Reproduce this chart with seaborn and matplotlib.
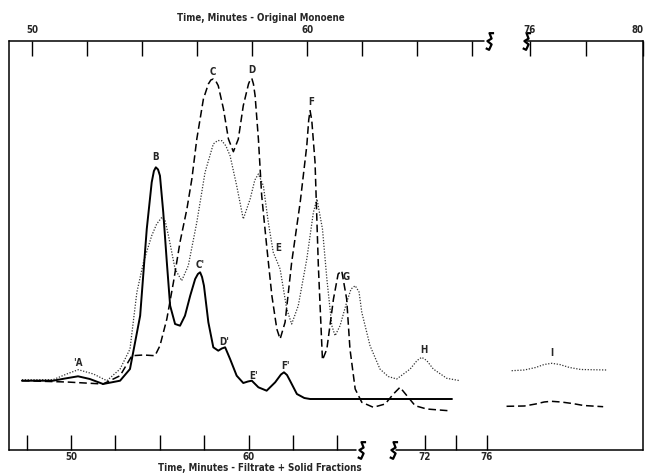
import numpy as np
import pandas as pd
import matplotlib
matplotlib.use('Agg')
import matplotlib.pyplot as plt
from matplotlib.path import Path
from matplotlib.ticker import FixedLocator, NullLocator
import seaborn as sns

sns.set_style('white')
plt.rcParams['font.family'] = ['DejaVu Sans']
plt.rcParams['font.stretch'] = 'condensed'
plt.rcParams['font.weight'] = 'bold'

# ---------------- data (x in minutes on the "Original Monoene" scale) -------------
solid_t = [49.63, 50.76, 51.20, 51.67, 52.10, 52.58, 53.20, 53.56, 53.93, 54.17, 54.35,
           54.43, 54.50, 54.58, 54.65, 54.77, 54.90, 55.02, 55.20, 55.38, 55.56, 55.75,
           55.93, 56.03, 56.11, 56.18, 56.25, 56.41, 56.59, 56.77, 56.90, 57.02, 57.20,
           57.44, 57.68, 57.85, 57.99, 58.23, 58.53, 58.84, 59.05, 59.16, 59.27, 59.38,
           59.63, 59.90, 60.11, 60.84, 65.27]
solid_y = [69.3, 69.3, 71.5, 73.7, 71.0, 66.0, 69.3, 81.0, 134.3, 221.0, 267.7,
           279.0, 282.7, 280.5, 274.3, 237.7, 187.7, 144.3, 126.0, 124.3, 134.3, 154.3,
           171.0, 176.0, 177.7, 173.0, 164.3, 127.7, 102.7, 99.3, 101.5, 102.7, 91.0,
           74.3, 67.0, 68.5, 69.3, 62.7, 59.3, 67.7, 75.5, 77.7, 75.0, 69.3,
           56.0, 52.0, 51.0, 51.0, 51.0]

dashed_t = [49.63, 51.26, 52.58, 53.20, 53.63, 54.05, 54.47, 54.65, 54.90, 55.14, 55.38,
            55.63, 55.81, 55.99, 56.23, 56.41, 56.50, 56.59, 56.68, 56.77, 56.96, 57.14,
            57.32, 57.50, 57.68, 57.87, 57.93, 57.99, 58.05, 58.11, 58.23, 58.35, 58.53,
            58.72, 58.90, 59.02, 59.20, 59.44, 59.75, 59.99, 60.06, 60.11, 60.17, 60.29,
            60.41, 60.56, 60.72, 60.96, 61.13, 61.26, 61.44, 61.56, 61.75, 61.99, 62.41,
            62.84, 63.14, 63.38, 63.63, 63.93, 64.35, 65.14]
dashed_y = [69.3, 68.0, 66.0, 74.3, 94.3, 95.0, 94.3, 104.3, 131.0, 167.7, 208.0,
            241.0, 271.0, 311.0, 351.0, 366.0, 370.0, 371.0, 369.0, 364.3, 341.0, 311.0,
            298.3, 311.0, 344.3, 366.0, 370.0, 371.7, 366.0, 354.3, 311.0, 254.3, 204.3,
            154.3, 121.0, 111.0, 127.7, 187.7, 247.7, 304.3, 330.0, 339.3, 330.0, 287.7,
            184.3, 90.0, 101.0, 151.0, 176.0, 179.3, 151.0, 101.0, 61.0, 47.7, 42.7,
            46.0, 56.0, 62.7, 54.3, 44.3, 41.0, 39.3]

dotted_t = [49.63, 50.76, 51.26, 51.68, 52.23, 52.72, 53.20, 53.56, 53.81, 54.05, 54.35,
            54.53, 54.72, 54.84, 54.96, 55.20, 55.44, 55.68, 55.99, 56.29, 56.59, 56.75,
            56.90, 57.05, 57.20, 57.44, 57.68, 57.93, 58.10, 58.23, 58.41, 58.59, 58.77,
            59.02, 59.26, 59.44, 59.68, 59.99, 60.23, 60.36, 60.56, 60.72, 60.90, 61.02,
            61.20, 61.44, 61.60, 61.75, 61.89, 61.99, 62.29, 62.65, 62.95, 63.26, 63.75,
            64.00, 64.17, 64.35, 64.59, 65.08, 65.56]
dotted_y = [70.3, 70.3, 76.0, 80.3, 76.0, 69.3, 81.0, 101.0, 157.7, 187.7, 214.3,
            226.0, 232.7, 229.0, 214.3, 181.0, 169.3, 184.3, 227.7, 277.7, 306.0, 309.5,
            309.3, 304.0, 294.3, 264.3, 231.0, 251.0, 270.0, 276.0, 264.3, 227.7, 197.7,
            181.0, 141.0, 126.0, 144.3, 191.0, 237.7, 251.0, 221.0, 171.0, 124.3, 114.3,
            124.3, 147.7, 161.0, 164.3, 158.0, 137.7, 104.3, 81.0, 73.5, 71.0, 81.0,
            89.5, 92.7, 89.5, 81.0, 71.7, 69.3]

dotted_i_t = [75.35, 75.80, 76.20, 76.50, 76.77, 77.05, 77.40, 77.80, 78.72]
dotted_i_y = [79.3, 80.0, 82.5, 85.5, 86.7, 85.5, 82.5, 80.5, 80.0]
dashed_i_t = [75.17, 75.80, 76.20, 76.50, 76.75, 77.10, 77.50, 77.90, 78.59]
dashed_i_y = [43.7, 44.0, 46.0, 48.0, 48.7, 48.0, 46.5, 44.5, 43.3]

peak_labels = ["'A", "B", "C'", "D'", "E'", "F'", "C", "D", "F", "E", "G", "H", "I"]
peak_label_t = [51.67, 54.50, 56.11, 56.98, 58.05, 59.20, 56.59, 57.99, 60.15, 58.96, 61.44, 64.23, 76.77]
peak_label_y = [87.7, 294.3, 186.0, 109.3, 75.0, 85.0, 379.3, 381.0, 349.3, 202.7, 173.7, 101.0, 97.7]

top_ticks = [50, 52, 54, 56, 58, 60, 62, 64, 66, 76, 78, 80]
top_tick_labels = ['50', '', '', '', '', '60', '', '', '', '76', '', '80']
bottom_ticks = [48, 50, 52, 54, 56, 58, 60, 62, 72, 74, 76]
bottom_tick_labels = ['', '50', '', '', '', '60', '', '', '72', '', '76']

top_title = 'Time, Minutes - Original Monoene'
bottom_title = 'Time, Minutes - Filtrate + Solid Fractions'

# ---------------- broken scales --------------------------------------------------
T_KNOTS = [40.0, 67.0, 75.0, 90.0]
U_KNOTS = [40.0, 67.0, 67.08, 68.109 + 14 * 1.0273]


def fwd(t):
    return np.interp(np.asarray(t, float), T_KNOTS, U_KNOTS)


def inv(u):
    return np.interp(np.asarray(u, float), U_KNOTS, T_KNOTS)


def bottom_to_top(b):
    b = np.asarray(b, float)
    return np.where(b < 67, 51.418 + (b - 50) * 0.80727, 64.291 + (b - 72) * 0.56364)


XLIM = (49.16, 80.0)
FS = 7

fig = plt.figure(figsize=(6.47, 4.77), dpi=100)
ax = fig.add_axes([9 / 647, 1 - 451 / 477, 634 / 647, 409 / 477])
ax.set_xscale('function', functions=(fwd, inv))

df_solid = pd.DataFrame({'t': solid_t, 'y': solid_y})
df_dash = pd.DataFrame({'t': dashed_t, 'y': dashed_y})
df_dot = pd.DataFrame({'t': dotted_t, 'y': dotted_y})
df_dot_i = pd.DataFrame({'t': dotted_i_t, 'y': dotted_i_y})
df_dash_i = pd.DataFrame({'t': dashed_i_t, 'y': dashed_i_y})

sns.lineplot(data=df_dot, x='t', y='y', ax=ax, color='#333333', lw=0.9,
             linestyle=(0, (1, 1.3)), sort=False)
sns.lineplot(data=df_dot_i, x='t', y='y', ax=ax, color='#333333', lw=0.9,
             linestyle=(0, (1, 1.3)), sort=False)
sns.lineplot(data=df_dash, x='t', y='y', ax=ax, color='black', lw=1.1,
             linestyle=(0, (5, 2.5)), sort=False)
sns.lineplot(data=df_dash_i, x='t', y='y', ax=ax, color='black', lw=1.1,
             linestyle=(0, (5, 2.5)), sort=False)
sns.lineplot(data=df_solid, x='t', y='y', ax=ax, color='black', lw=1.4, sort=False)

for lab, t, y in zip(peak_labels, peak_label_t, peak_label_y):
    ax.text(t, y, lab, ha='center', va='center', fontsize=FS, fontweight='bold')

ax.set_xlim(*XLIM)
ax.set_ylim(0, 409)
ax.set_xlabel('')
ax.set_ylabel('')
ax.set_yticks([])

# bottom axis (filtrate + solid fractions)
ax.xaxis.set_major_locator(FixedLocator(bottom_to_top(bottom_ticks)))
ax.set_xticklabels(bottom_tick_labels)
ax.xaxis.set_minor_locator(NullLocator())
ax.tick_params(axis='x', direction='in', length=11, width=1.0, pad=0.5,
               labelsize=FS, color='black', bottom=True)

# top axis (original monoene)
axt = ax.twiny()
axt.set_xscale('function', functions=(fwd, inv))
axt.set_xlim(*XLIM)
axt.xaxis.set_major_locator(FixedLocator(top_ticks))
axt.set_xticklabels(top_tick_labels)
axt.xaxis.set_minor_locator(NullLocator())
axt.tick_params(axis='x', direction='in', length=11, width=1.0, pad=5,
                labelsize=FS, color='black', top=True)
for lab in ax.get_xticklabels() + axt.get_xticklabels():
    lab.set_fontweight('bold')
axt.get_xticklabels()[-1].set_horizontalalignment('right')

for a in (ax, axt):
    for s in ('top', 'bottom'):
        a.spines[s].set_visible(False)
for s in ('left', 'right'):
    ax.spines[s].set_linewidth(1.1)
    ax.spines[s].set_color('black')
    axt.spines[s].set_visible(False)

# broken top / bottom frame lines
top_segments = [(XLIM[0], 66.45), (75.88, XLIM[1])]
bot_segments = [(XLIM[0], float(bottom_to_top(62.85))), (float(bottom_to_top(70.1)), XLIM[1])]
trans = ax.get_xaxis_transform()
for x0, x1 in top_segments:
    ax.plot([x0, x1], [1, 1], color='black', lw=1.1, transform=trans, clip_on=False)
for x0, x1 in bot_segments:
    ax.plot([x0, x1], [0, 0], color='black', lw=1.1, transform=trans, clip_on=False)

zig = Path([(0.55, 1.0), (0.0, 1.0), (0.25, 0.35), (-0.25, 0.05), (0.25, -0.35),
            (-0.05, -1.0), (-0.45, -0.8)])
for x in (66.6, 75.85):
    ax.plot([x], [1], marker=zig, ms=12, mew=1.6, mfc='none', mec='black',
            transform=trans, clip_on=False)
for x in (float(bottom_to_top(63.05)), float(bottom_to_top(69.9))):
    ax.plot([x], [0], marker=zig, ms=12, mew=1.6, mfc='none', mec='black',
            transform=trans, clip_on=False)

fig.text(261 / 647, 1 - 18 / 477, top_title, ha='center', va='center',
         fontsize=FS, fontweight='bold')
fig.text(260 / 647, 1 - 468 / 477, bottom_title, ha='center', va='center',
         fontsize=FS, fontweight='bold')

fig.savefig('out.png', dpi=100, facecolor='white')
